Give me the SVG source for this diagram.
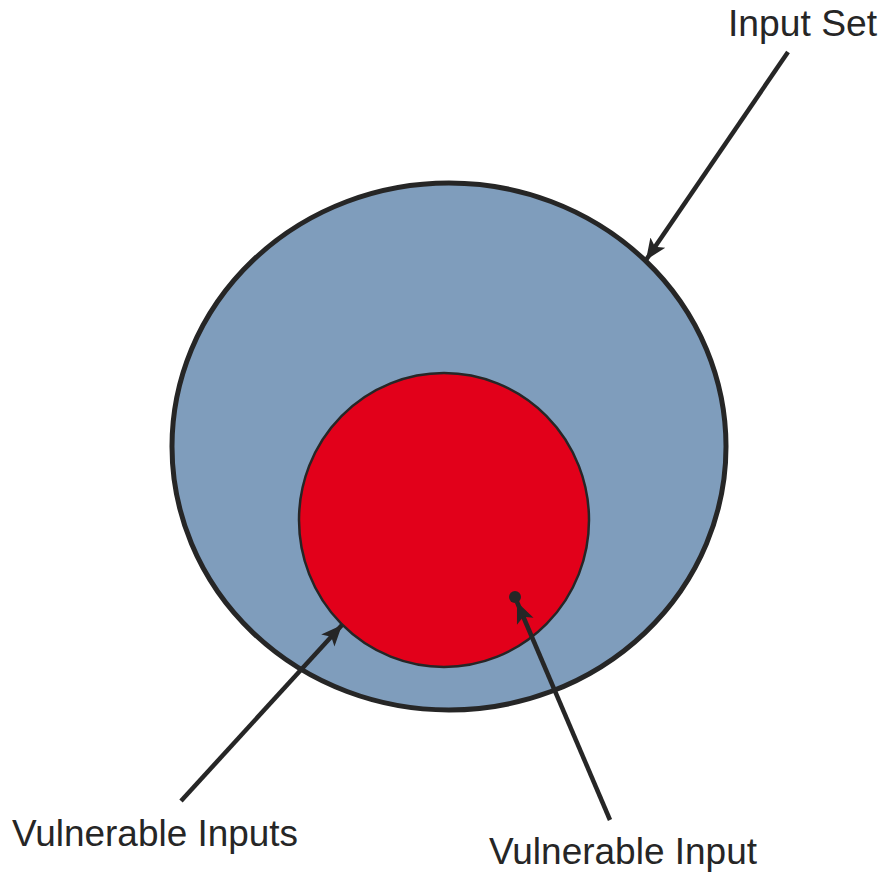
<svg xmlns="http://www.w3.org/2000/svg" width="884" height="873" viewBox="0 0 884 873">
<style>
.lbl{font-family:"Liberation Sans",Arial,sans-serif;font-size:36px;fill:#262626}
.conn{stroke:#262626;stroke-width:4.5;fill:none;marker-end:url(#ah)}
</style>
<defs>
<marker id="ah" markerUnits="userSpaceOnUse" markerWidth="24" markerHeight="24" viewBox="0 0 24 24" refX="21" refY="12" orient="auto">
<path d="M0,3 L21,12 L0,21 L5,12 Z" fill="#262626"/>
</marker>
</defs>
<rect width="884" height="873" fill="#fff"/>
<g id="input-set">
<ellipse cx="449" cy="446.5" rx="277" ry="263.5" fill="#7F9DBC" stroke="#262626" stroke-width="5"/>
</g>
<g id="vulnerable-inputs">
<ellipse cx="444" cy="520" rx="145" ry="147" fill="#E2001A" stroke="#262626" stroke-width="2.5"/>
</g>
<g id="vulnerable-input">
<circle cx="515" cy="597" r="6" fill="#262626"/>
</g>
<g id="connectors">
<line class="conn" x1="788" y1="52" x2="646" y2="260"/>
<line class="conn" x1="181" y1="801" x2="342" y2="625"/>
<line class="conn" x1="610" y1="820" x2="517" y2="602"/>
</g>
<g id="labels">
<text class="lbl" x="728" y="36" textLength="149" lengthAdjust="spacingAndGlyphs">Input Set</text>
<text class="lbl" x="12" y="846" textLength="286" lengthAdjust="spacingAndGlyphs">Vulnerable Inputs</text>
<text class="lbl" x="489" y="864" textLength="268" lengthAdjust="spacingAndGlyphs">Vulnerable Input</text>
</g>
</svg>
